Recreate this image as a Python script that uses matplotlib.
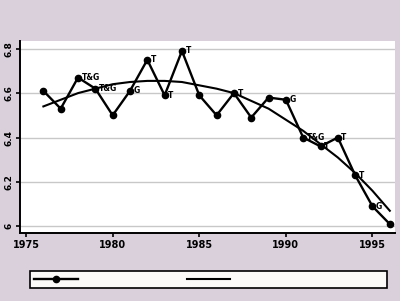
import matplotlib
matplotlib.use("Agg")
import matplotlib.pyplot as plt
from matplotlib.lines import Line2D

years = list(range(1976, 1997))
values = [6.61, 6.53, 6.67, 6.62, 6.50, 6.61, 6.75, 6.59, 6.79, 6.59,
          6.50, 6.60, 6.49, 6.58, 6.57, 6.40, 6.36, 6.40, 6.23, 6.09, 6.01]
labels = ["", "", "T&G", "T&G", "", "G", "T", "T", "T", "",
          "", "T", "", "", "G", "T&G", "T", "T", "T", "G", ""]
fit_values = [6.54, 6.57, 6.60, 6.62, 6.64, 6.65, 6.655, 6.655, 6.65, 6.635,
              6.62, 6.60, 6.565, 6.53, 6.48, 6.43, 6.37, 6.31, 6.24, 6.16, 6.07]
xticks = [1975, 1980, 1985, 1990, 1995]
yticks = [6.0, 6.2, 6.4, 6.6, 6.8]
ytick_labels = ["6", "6.2", "6.4", "6.6", "6.8"]

bg = "#d9d0dc"
fig = plt.figure(figsize=(4.0, 3.01), dpi=100, facecolor=bg)
ax = fig.add_axes([0.05, 0.226, 0.9375, 0.638])
ax.set_facecolor("white")

for y in yticks:
    ax.axhline(y, color="#c8c8c8", lw=1.0, zorder=0)

ax.plot(years, values, color="black", lw=1.7, marker="o", ms=4.5, zorder=3)
ax.plot(years, fit_values, color="black", lw=1.5, zorder=2)

for x, y, t in zip(years, values, labels):
    if t:
        ax.annotate(t, (x, y), xytext=(2.5, 0), textcoords="offset points",
                    fontsize=5.5, fontweight="bold", va="center", ha="left", zorder=4)

ax.set_xlim(1974.65, 1996.3)
ax.set_ylim(5.97, 6.835)
ax.set_xticks(xticks)
ax.set_xticklabels([str(v) for v in xticks], fontsize=7, fontweight="bold")
ax.set_yticks(yticks)
ax.set_yticklabels(ytick_labels, fontsize=6.5, fontweight="bold", rotation=90, va="center")
ax.tick_params(axis="both", length=3, width=1.2, pad=2, color="black")

for side in ["top", "right"]:
    ax.spines[side].set_visible(False)
for side in ["left", "bottom"]:
    ax.spines[side].set_linewidth(1.4)

handles = [Line2D([0], [0], color="black", lw=1.7, marker="o", ms=4.5),
           Line2D([0], [0], color="black", lw=1.5),
           Line2D([0], [0], color="none", lw=1.5)]
leg = fig.legend(handles, ["", "", ""], loc="lower left",
                 bbox_to_anchor=(0.075, 0.043, 0.8925, 0.067), mode="expand",
                 ncol=3, frameon=True, fancybox=False, edgecolor="black",
                 facecolor="#fbfaf8", framealpha=1, prop={"size": 6},
                 handlelength=5.2, handletextpad=0.0, borderpad=0.5,
                 borderaxespad=0)
leg.get_frame().set_linewidth(1.2)

fig.savefig("out.png", dpi=100, facecolor=bg)
